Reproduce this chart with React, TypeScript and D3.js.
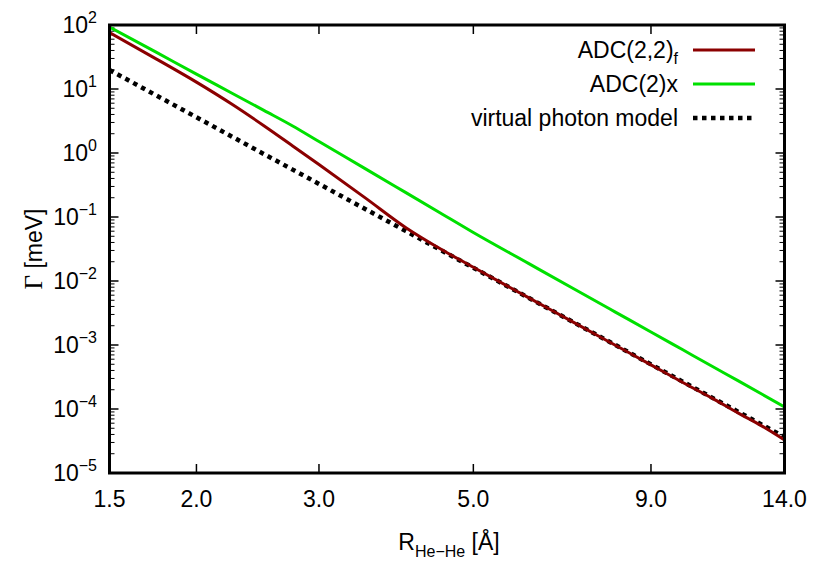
import React from "react";
import * as d3 from "d3";

const R = [1.5, 1.75, 2.0, 2.25, 2.5, 2.75, 3.0, 3.5, 4.0, 4.5, 5.0, 6.0, 7.0, 8.0, 9.0, 10.0, 11.0, 12.0, 13.0, 14.0];
const adc22f = [75.9, 29.6, 12.8, 5.77, 2.67, 1.29, 0.659, 0.197, 0.068, 0.031, 0.0164, 0.0055, 0.0022, 0.00099, 0.00049, 0.00026, 0.000149, 0.000087, 0.000054, 0.0000328];
const adc2x = [93, 37.6, 17.1, 8.59, 4.63, 2.64, 1.51, 0.565, 0.24, 0.1127, 0.0573, 0.01884, 0.00736, 0.00327, 0.0016, 0.000841, 0.00047, 0.000277, 0.00017, 0.000108];
const virtualPhoton = [19.8, 7.97, 3.62, 1.8, 0.964, 0.55, 0.329, 0.1324, 0.0602, 0.03, 0.0161, 0.00548, 0.0022, 0.001, 0.000498, 0.000267, 0.000152, 0.000091, 0.0000566, 0.0000365];

const xTickValues = [1.5, 2.0, 3.0, 5.0, 9.0, 14.0];
const xTickLabels = ["1.5", "2.0", "3.0", "5.0", "9.0", "14.0"];
const yExponents = [2, 1, 0, -1, -2, -3, -4, -5];

const seriesNames = ["ADC(2,2)", "ADC(2)x", "virtual photon model"];

const FONT = "'Liberation Sans', Arial, sans-serif";

export default function App() {
  const W = 830, H = 581;
  const left = 109.5, right = 784.5, top = 25, bottom = 473;
  const x = d3.scaleLog().domain([1.5, 14]).range([left, right]);
  const y = d3.scaleLog().domain([1e-5, 1e2]).range([bottom, top]);

  const line = (vals: number[]) =>
    d3.line<number>()
      .x((_, i) => x(R[i]))
      .y((v) => y(v))
      .curve(d3.curveMonotoneX)(vals) as string;

  const minorY: number[] = [];
  for (let e = -5; e < 2; e++) {
    for (let k = 2; k <= 9; k++) minorY.push(k * Math.pow(10, e));
  }

  const fs = 23;
  const sfs = 16;
  const majorLen = 9;
  const minorLen = 5;

  return (
    <svg width={W} height={H} style={{ position: "absolute", left: 0, top: 0, background: "#fff" }} fontFamily={FONT}>
      <rect x={0} y={0} width={W} height={H} fill="#fff" />
      <defs>
        <clipPath id="plotclip">
          <rect x={left} y={top} width={right - left} height={bottom - top} />
        </clipPath>
      </defs>

      {minorY.map((v, i) => (
        <g key={"my" + i} stroke="#000" strokeWidth={1}>
          <line x1={left} x2={left + minorLen} y1={y(v)} y2={y(v)} />
          <line x1={right} x2={right - minorLen} y1={y(v)} y2={y(v)} />
        </g>
      ))}
      {yExponents.map((e) => (
        <g key={"yy" + e} stroke="#000" strokeWidth={1.5}>
          <line x1={left} x2={left + majorLen} y1={y(Math.pow(10, e))} y2={y(Math.pow(10, e))} />
          <line x1={right} x2={right - majorLen} y1={y(Math.pow(10, e))} y2={y(Math.pow(10, e))} />
        </g>
      ))}
      {xTickValues.map((v, i) => (
        <g key={"xt" + i} stroke="#000" strokeWidth={1.5}>
          <line x1={x(v)} x2={x(v)} y1={bottom} y2={bottom - majorLen} />
          <line x1={x(v)} x2={x(v)} y1={top} y2={top + majorLen} />
        </g>
      ))}

      <g clipPath="url(#plotclip)" fill="none">
        <path d={line(virtualPhoton)} stroke="#000" strokeWidth={4.5} strokeDasharray="4.5,4.5" />
        <path d={line(adc22f)} stroke="#8b0000" strokeWidth={3} />
        <path d={line(adc2x)} stroke="#00e000" strokeWidth={3} />
      </g>

      <rect x={left} y={top} width={right - left} height={bottom - top} fill="none" stroke="#000" strokeWidth={3} />

      {yExponents.map((e) => (
        <text key={"yl" + e} x={97} y={y(Math.pow(10, e)) + 8} textAnchor="end" fontSize={fs} fill="#000">
          10<tspan dy={-10} fontSize={sfs}>{e < 0 ? "\u2212" + Math.abs(e) : String(e)}</tspan>
        </text>
      ))}
      {xTickValues.map((v, i) => (
        <text key={"xl" + i} x={x(v)} y={507} textAnchor="middle" fontSize={fs} fill="#000">
          {xTickLabels[i]}
        </text>
      ))}

      <text x={449} y={550} textAnchor="middle" fontSize={fs} fill="#000">
        R<tspan dy={7} fontSize={sfs}>He{"\u2212"}He</tspan><tspan dy={-7}> [Å]</tspan>
      </text>
      <text transform="translate(42,249) rotate(-90)" textAnchor="middle" fontSize={fs} fill="#000">
        <tspan fontFamily="'Liberation Serif', serif" fontSize={25}>Γ</tspan> [meV]
      </text>

      <g>
        <text x={678} y={58} textAnchor="end" fontSize={fs} fill="#000">
          {seriesNames[0]}<tspan dy={6} fontSize={sfs}>f</tspan>
        </text>
        <line x1={693} x2={755} y1={50} y2={50} stroke="#8b0000" strokeWidth={3} />
        <text x={678} y={92} textAnchor="end" fontSize={fs} fill="#000">{seriesNames[1]}</text>
        <line x1={693} x2={755} y1={84} y2={84} stroke="#00e000" strokeWidth={3} />
        <text x={678} y={126} textAnchor="end" fontSize={fs} fill="#000">{seriesNames[2]}</text>
        <line x1={693} x2={755} y1={118} y2={118} stroke="#000" strokeWidth={4.5} strokeDasharray="4.5,4.5" />
      </g>
    </svg>
  );
}
